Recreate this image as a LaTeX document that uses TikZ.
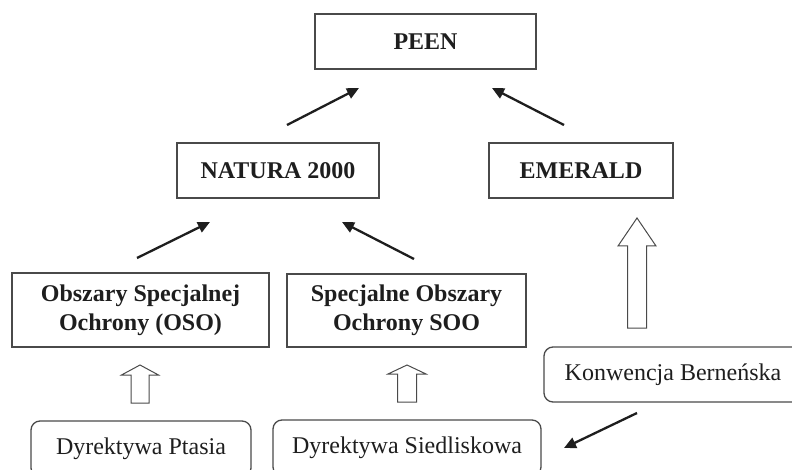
\documentclass[tikz,border=0pt]{standalone}
\usepackage{fontspec}
\setmainfont{Liberation Serif}
\usetikzlibrary{arrows.meta}
\definecolor{boxline}{HTML}{4A4A4A}
\definecolor{ink}{HTML}{1E1E1E}
\tikzset{box/.style={draw=boxline, line width=1.3pt, text=ink, align=center, inner sep=0pt, font=\fontsize{24}{29}\selectfont\bfseries},
soft/.style={box, rounded corners=9pt, font=\fontsize{24}{29}\selectfont},
link/.style={draw=ink, line width=2.3pt, -{Triangle[length=12pt,width=11pt]}},
hollow/.style={draw=boxline, line width=1pt, fill=white}}
% x, tip, head base, bottom, head half width, shaft half width
\newcommand{\hollowup}[6]{\draw[hollow] (#1-#6,#4) -- (#1-#6,#3) -- (#1-#5,#3) -- (#1,#2) -- (#1+#5,#3) -- (#1+#6,#3) -- (#1+#6,#4) -- cycle;}

\begin{document}
\begin{tikzpicture}[x=1pt,y=-1pt]
\useasboundingbox (0,0) rectangle (792,470);
\clip (0,0) rectangle (792,470);

% boxes
\node[box, minimum width=221pt, minimum height=55pt] (peen) at (425.5,41.5) {PEEN};
\node[box, minimum width=202pt, minimum height=55pt] (natura) at (278,170.5) {NATURA 2000};
\node[box, minimum width=184pt, minimum height=55pt] (emerald) at (581,170.5) {EMERALD};
\node[box, minimum width=257pt, minimum height=74pt] (oso) at (140.5,310) {Obszary Specjalnej\\Ochrony (OSO)};
\node[box, minimum width=239pt, minimum height=73pt] (soo) at (406.5,310.5) {Specjalne Obszary\\Ochrony SOO};
\node[soft, minimum width=258pt, minimum height=55pt] (bern) at (673,374.5) {Konwencja Berneńska};
\node[soft, minimum width=220pt, minimum height=56pt] (ptasia) at (141,449) {Dyrektywa Ptasia};
\node[soft, minimum width=268pt, minimum height=56pt] (siedl) at (407,448) {Dyrektywa Siedliskowa};

% arrows
\coordinate (a1s) at (287,125); \coordinate (a1e) at (359,88);
\coordinate (a2s) at (564,125); \coordinate (a2e) at (492,88);
\coordinate (a3s) at (137,258); \coordinate (a3e) at (210,222);
\coordinate (a4s) at (414,259); \coordinate (a4e) at (342,222);
\coordinate (a5s) at (637,413); \coordinate (a5e) at (564,448);
\foreach \a in {a1,a2,a3,a4,a5}
     \draw[link] (\a s) -- (\a e);

\hollowup{140}{365}{375}{403}{18.5}{9}
\hollowup{407}{365}{374}{402}{19}{9.5}
\hollowup{637}{218}{246}{328}{19}{9.5}

\end{tikzpicture}
\end{document}
